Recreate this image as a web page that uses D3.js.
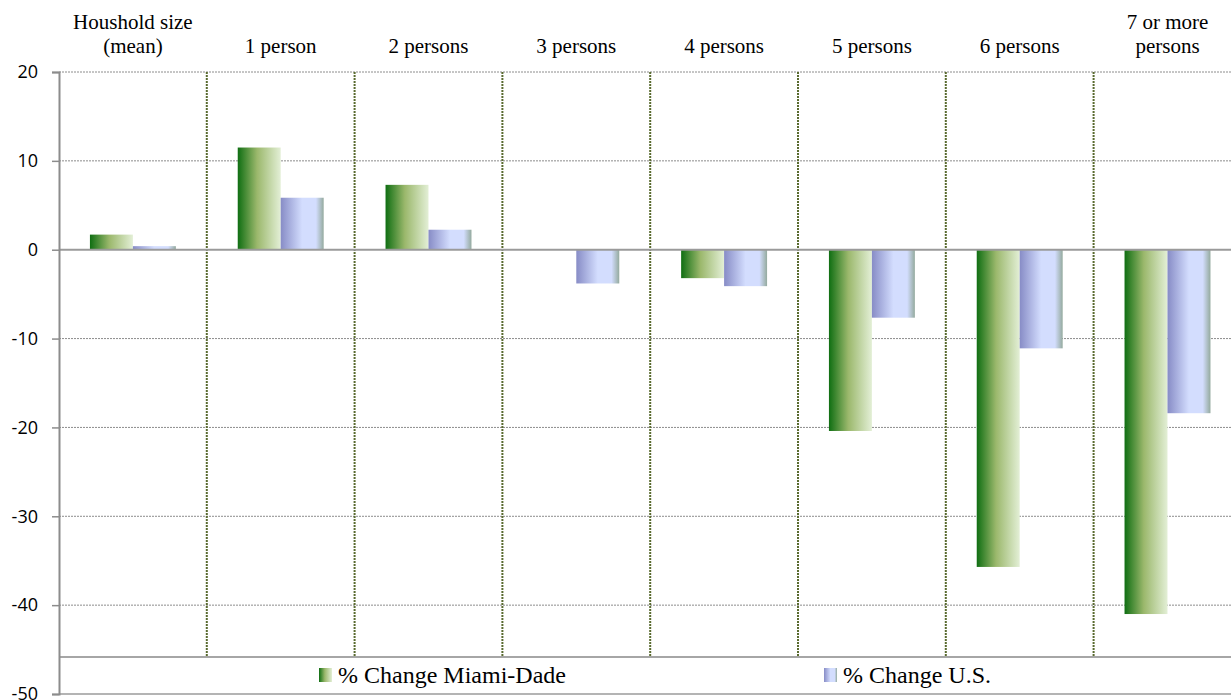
<!DOCTYPE html>
<html>
<head>
<meta charset="utf-8">
<script src="https://cdn.jsdelivr.net/npm/d3@7"></script>
<style>
  body { margin: 0; background: #fff; }
</style>
</head>
<body>
<div id="chart"></div>
<script>
// data
const categories = ["Houshold size\n(mean)", "1 person", "2 persons", "3 persons", "4 persons", "5 persons", "6 persons", "7 or more\npersons"];
const series = ["% Change Miami-Dade", "% Change U.S."];
const miamiDade = [1.7, 11.5, 7.3, 0, -3.2, -20.4, -35.7, -41.0];
const unitedStates = [0.4, 5.85, 2.25, -3.8, -4.1, -7.65, -11.1, -18.4];
const yTicks = [20, 10, 0, -10, -20, -30, -40, -50];

const W = 1231, H = 700;
const left = 59, bandW = 147.8;

const svg = d3.select("#chart").append("svg")
  .attr("width", W)
  .attr("height", H);

// gradients for the bars
const defs = svg.append("defs");
const gGreen = defs.append("linearGradient").attr("id", "gradGreen");
[[0, "#0f6e12"], [0.45, "#9bb86c"], [1, "#e3efd6"]].forEach(s =>
  gGreen.append("stop").attr("offset", s[0]).attr("stop-color", s[1]));
const gBlue = defs.append("linearGradient").attr("id", "gradBlue");
[[0, "#878cc6"], [0.5, "#d3ddfe"], [0.82, "#d3ddfe"], [1, "#94aa9e"]].forEach(s =>
  gBlue.append("stop").attr("offset", s[0]).attr("stop-color", s[1]));
const fills = ["url(#gradGreen)", "url(#gradBlue)"];

const x0 = d3.scaleBand()
  .domain(categories)
  .range([left, left + bandW * categories.length])
  .padding(0);

const x1 = d3.scaleBand()
  .domain(series)
  .range([0, x0.bandwidth()])
  .paddingInner(0)
  .paddingOuter(0.72);

const y = d3.scaleLinear()
  .domain([-50, 20])
  .range([694, 72]);

const legendTop = 657;

// horizontal gridlines
svg.append("g")
  .selectAll("line")
  .data(yTicks.filter(d => d !== 0 && d !== -50))
  .enter().append("line")
    .attr("x1", left).attr("x2", W)
    .attr("y1", d => y(d)).attr("y2", d => y(d))
    .attr("stroke", "#8c8c8c")
    .attr("stroke-width", 1)
    .attr("stroke-dasharray", "2,1");

// vertical gridlines between categories
svg.append("g")
  .selectAll("line")
  .data(categories.slice(1))
  .enter().append("line")
    .attr("x1", d => x0(d)).attr("x2", d => x0(d))
    .attr("y1", y(20)).attr("y2", legendTop)
    .attr("stroke", "#5a6b30")
    .attr("stroke-width", 2)
    .attr("stroke-dasharray", "2,1");

// bars
const rows = categories.map((c, i) => ({ cat: c, vals: [miamiDade[i], unitedStates[i]] }));
svg.append("g")
  .selectAll("g")
  .data(rows)
  .enter().append("g")
    .attr("transform", d => "translate(" + x0(d.cat) + ",0)")
  .selectAll("rect")
  .data(d => d.vals.map((v, j) => ({ s: series[j], v: v, j: j })))
  .enter().append("rect")
    .attr("x", d => x1(d.s))
    .attr("width", x1.bandwidth())
    .attr("y", d => y(Math.max(0, d.v)))
    .attr("height", d => Math.abs(y(d.v) - y(0)))
    .attr("fill", d => fills[d.j]);

// zero line
svg.append("line")
  .attr("x1", left).attr("x2", W)
  .attr("y1", y(0)).attr("y2", y(0))
  .attr("stroke", "#9a9a9a")
  .attr("stroke-width", 2);

// legend box lines
svg.append("line")
  .attr("x1", left).attr("x2", W)
  .attr("y1", legendTop).attr("y2", legendTop)
  .attr("stroke", "#a6a6a6")
  .attr("stroke-width", 2);
svg.append("line")
  .attr("x1", left).attr("x2", W)
  .attr("y1", y(-50)).attr("y2", y(-50))
  .attr("stroke", "#b4b4b4")
  .attr("stroke-width", 2);

// y axis
const yAxis = svg.append("g")
  .attr("transform", "translate(" + left + ",0)")
  .call(d3.axisLeft(y).tickValues(yTicks).tickSize(7).tickPadding(14).tickFormat(d => String(d)));
yAxis.select(".domain").attr("stroke", "#8c8c8c").attr("stroke-width", 2);
yAxis.selectAll(".tick line").attr("stroke", "#8c8c8c").attr("stroke-width", 1.5);
yAxis.selectAll(".tick text")
  .attr("fill", "#000")
  .style("font-family", "'Open Sans', 'Liberation Sans', sans-serif")
  .style("font-size", "18px");

// category labels on top
const catLabels = svg.append("g")
  .selectAll("text")
  .data(categories)
  .enter().append("text")
    .attr("x", d => x0(d) + x0.bandwidth() / 2)
    .attr("text-anchor", "middle")
    .style("font-family", "'Liberation Serif', 'Times New Roman', serif")
    .style("font-size", "21px")
    .attr("fill", "#000");
catLabels.each(function(d) {
  const lines = d.split("\n");
  const t = d3.select(this);
  lines.forEach((ln, k) => {
    t.append("tspan")
      .attr("x", x0(d) + x0.bandwidth() / 2)
      .attr("y", 53 - (lines.length - 1 - k) * 24)
      .text(ln);
  });
});

// legend
const legendX = [319, 824];
const legend = svg.append("g")
  .selectAll("g")
  .data(series)
  .enter().append("g")
    .attr("transform", (d, i) => "translate(" + legendX[i] + ",668)");
legend.append("rect")
  .attr("width", 13).attr("height", 14)
  .attr("fill", (d, i) => fills[i]);
legend.append("text")
  .attr("x", 19).attr("y", 15)
  .style("font-family", "'Liberation Serif', 'Times New Roman', serif")
  .style("font-size", "24px")
  .attr("fill", "#000")
  .text(d => d);
</script>
</body>
</html>
